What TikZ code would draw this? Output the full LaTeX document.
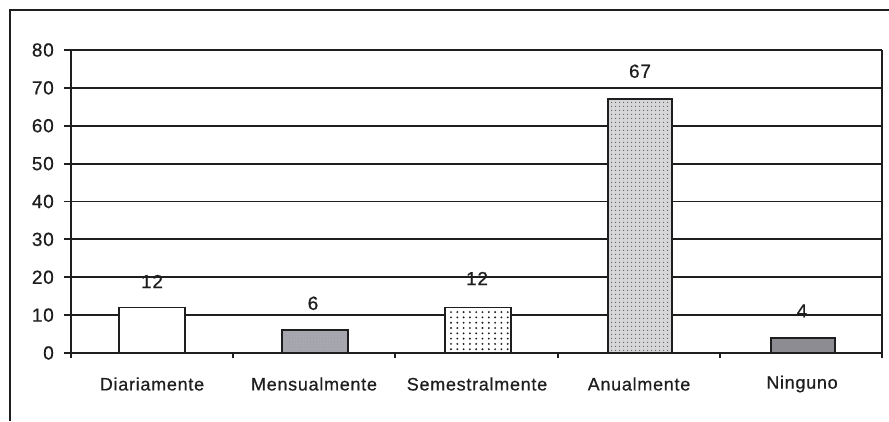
\documentclass[tikz,border=0pt]{standalone}
\usepackage{fontspec}
\newfontfamily\chartfont{Liberation Sans}[LetterSpace=4, FakeBold=0.6]
\usetikzlibrary{patterns.meta}
\definecolor{ink}{HTML}{1E1E1E}
\definecolor{mgray}{HTML}{A4A4AC}
\definecolor{lgray}{HTML}{D6D6D8}
\definecolor{dgray}{HTML}{8C8C92}
\tikzset{
  gridline/.style={draw=ink, line width=1.9pt},
  axisline/.style={draw=ink, line width=1.9pt},
  barbox/.style={draw=ink, line width=1.6pt},
  ticklab/.style={font=\chartfont\fontsize{19}{19}\selectfont, text=ink, anchor=east, inner sep=0pt},
  vallab/.style={font=\chartfont\fontsize{19}{19}\selectfont, text=ink, inner sep=0pt},
  catlab/.style={font=\chartfont\fontsize{18}{18}\selectfont, text=ink, inner sep=0pt},
}
\begin{document}
\begin{tikzpicture}[x=1pt,y=-1pt]
\useasboundingbox (0,0) rectangle (889,421);
\fill[white] (0,0) rectangle (889,421);
% outer frame (cropped at right and bottom)
\coordinate (fa) at (10,421);
\coordinate (fb) at (10,10);
\coordinate (fc) at (889,10);
\draw[ink, line width=1.6pt] (fa) -- (fb) -- (fc);
\begin{scope}[shift={(71,353)}, x=1pt, y=3.7875pt]
  % gridlines and y ticks
  \foreach \v in {10,20,...,80} {
    \draw[gridline] (-7,\v) -- (811,\v);
  }
  \foreach \v in {0,10,...,80} {
    \draw[axisline] (-7,\v) -- (0,\v);
    \node[ticklab] (t\v) at (-17,\v) {\v};
  }
  % bars
  \path[barbox, fill=white] (48,0) rectangle (114,12);
  \path[barbox, preaction={fill=mgray}, pattern={Dots[radius=0.7pt, distance=3pt]}, pattern color=gray!55] (211,0) rectangle (277,6);
  \path[fill=white] (374,0) rectangle (440,12);
  \foreach \i in {0,...,9} {
    \foreach \j in {0,...,7} {
      \fill[ink] (380+6.3*\i, 1.0+1.4*\j) circle[radius=1.05pt];
    }
  }
  \path[barbox] (374,0) rectangle (440,12);
  \path[barbox, preaction={fill=lgray}, pattern={Dots[radius=0.75pt, distance=4pt]}, pattern color=gray!70!black] (537,0) rectangle (601,67);
  \path[barbox, fill=dgray] (700,0) rectangle (764,4);
  % axes
  \draw[axisline] (0,-1.4) -- (0,80);
  \draw[axisline] (811,-1.4) -- (811,80);
  \draw[axisline] (-7,0) -- (811,0);
  \foreach \k in {1,2,3,4} {
    \draw[axisline] (162.2*\k,-1.4) -- (162.2*\k,0);
  }
  % value labels
  \node[vallab, yshift=26pt] (v1) at (81,12) {12};
  \node[vallab, yshift=27pt] (v2) at (242,6) {6};
  \node[vallab, yshift=29pt] (v3) at (406,12) {12};
  \node[vallab, yshift=28pt] (v4) at (569,67) {67};
  \node[vallab, yshift=27pt] (v5) at (731,4) {4};
  % category labels
  \node[catlab, yshift=-31pt] (c1) at (81,0) {Diariamente};
  \node[catlab, yshift=-31pt] (c2) at (243,0) {Mensualmente};
  \node[catlab, yshift=-31pt] (c3) at (406,0) {Semestralmente};
  \node[catlab, yshift=-31pt] (c4) at (568,0) {Anualmente};
  \node[catlab, yshift=-31pt] (c5) at (731,0) {Ninguno};
\end{scope}
\end{tikzpicture}
\end{document}
